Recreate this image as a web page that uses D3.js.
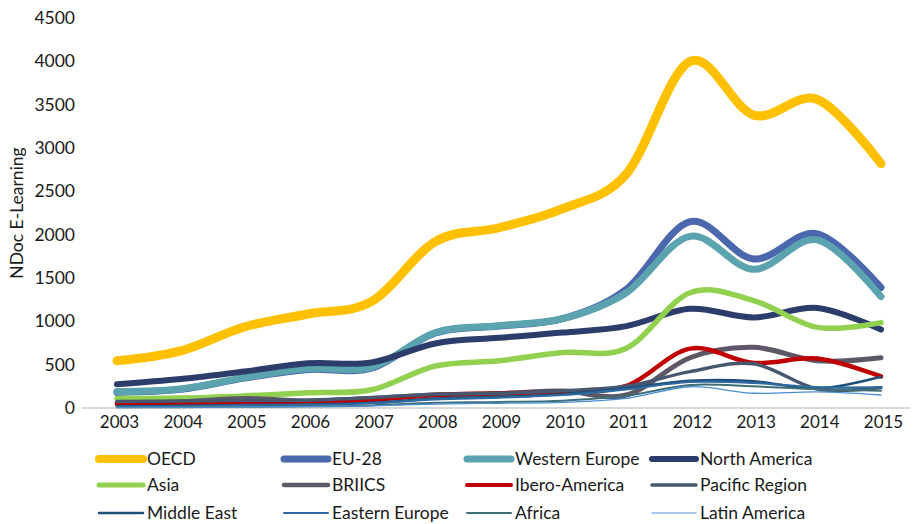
<!DOCTYPE html>
<html>
<head>
<meta charset="utf-8">
<script src="https://cdn.jsdelivr.net/npm/d3@7/dist/d3.min.js"></script>
<style>
  html, body { margin: 0; padding: 0; background: #fff; }
  svg { display: block; font-family: Lato, "Open Sans", sans-serif; }
</style>
</head>
<body>
<svg id="chart" width="913" height="524"></svg>
<script>
// Yearly document counts per region
const years = [2003, 2004, 2005, 2006, 2007, 2008, 2009, 2010, 2011, 2012, 2013, 2014, 2015];
const yTicks = [0, 500, 1000, 1500, 2000, 2500, 3000, 3500, 4000, 4500];

const oecd          = [545, 660, 935, 1085, 1230, 1920, 2080, 2300, 2700, 4000, 3380, 3560, 2820];
const eu28          = [180, 215, 345, 445, 460, 865, 945, 1030, 1370, 2150, 1720, 2010, 1390];
const westernEurope = [190, 220, 350, 455, 470, 870, 950, 1030, 1330, 1980, 1600, 1940, 1285];
const northAmerica  = [275, 335, 420, 515, 525, 745, 810, 870, 945, 1145, 1045, 1155, 905];
const asia          = [110, 115, 140, 175, 210, 485, 545, 640, 690, 1330, 1240, 930, 985];
const briics        = [60, 70, 110, 80, 110, 150, 165, 195, 150, 580, 700, 545, 580];
const iberoAmerica  = [40, 45, 65, 70, 95, 150, 170, 190, 255, 685, 520, 570, 365];
const pacificRegion = [75, 80, 90, 90, 120, 160, 170, 200, 250, 420, 510, 220, 235];
const middleEast    = [20, 25, 35, 40, 60, 110, 130, 160, 230, 315, 310, 225, 360];
const easternEurope = [15, 20, 30, 35, 55, 100, 120, 150, 215, 300, 290, 240, 240];
const africa        = [8, 10, 15, 20, 30, 60, 70, 85, 140, 265, 250, 215, 200];
const latinAmerica  = [5, 8, 12, 15, 25, 45, 55, 65, 110, 245, 170, 185, 150];

const series = [
  { name: "OECD",            values: oecd,          color: "#FFC000", width: 9,   legendWidth: 8 },
  { name: "EU-28",           values: eu28,          color: "#4B67AE", width: 7,   legendWidth: 7 },
  { name: "Western Europe",  values: westernEurope, color: "#5AA3AF", width: 7,   legendWidth: 7 },
  { name: "North America",   values: northAmerica,  color: "#2C3D6B", width: 6,   legendWidth: 6 },
  { name: "Asia",            values: asia,          color: "#92D050", width: 5.5, legendWidth: 5 },
  { name: "BRIICS",          values: briics,        color: "#5E5766", width: 5,   legendWidth: 4.5 },
  { name: "Ibero-America",   values: iberoAmerica,  color: "#C00000", width: 4.5, legendWidth: 4 },
  { name: "Pacific Region",  values: pacificRegion, color: "#47576F", width: 3.5, legendWidth: 3.5 },
  { name: "Middle East",     values: middleEast,    color: "#1F4E79", width: 2.5, legendWidth: 2.5 },
  { name: "Eastern Europe",  values: easternEurope, color: "#2E69A0", width: 2.2, legendWidth: 2 },
  { name: "Africa",          values: africa,        color: "#3F6F76", width: 2,   legendWidth: 2 },
  { name: "Latin America",   values: latinAmerica,  color: "#4A8FD6", width: 1.3, legendWidth: 1.2 }
];

const svg = d3.select("#chart");

const x = d3.scalePoint().domain(years).range([117, 881]);
const y = d3.scaleLinear().domain([0, 4500]).range([408, 18]);

// Category axis baseline
svg.append("line")
  .attr("x1", 82).attr("x2", 910)
  .attr("y1", y(0)).attr("y2", y(0))
  .attr("stroke", "#D9D9D9").attr("stroke-width", 2);

// Value axis labels
const yAxis = d3.axisLeft(y).tickValues(yTicks).tickFormat(d3.format("d")).tickSize(0).tickPadding(0);
const yG = svg.append("g").attr("transform", "translate(75,0)").call(yAxis);
yG.select(".domain").remove();
yG.selectAll("text")
  .attr("font-family", "Lato, 'Open Sans', sans-serif")
  .attr("font-size", 17.5).attr("fill", "#1a1a1a");

// Year labels
const xAxis = d3.axisBottom(x).tickFormat(d3.format("d")).tickSize(0).tickPadding(0);
const xG = svg.append("g").attr("transform", "translate(2,416)").call(xAxis);
xG.select(".domain").remove();
xG.selectAll("text")
  .attr("font-family", "Lato, 'Open Sans', sans-serif")
  .attr("font-size", 17).attr("fill", "#1a1a1a");

// Axis title
svg.append("text")
  .attr("transform", "translate(23,213) rotate(-90)")
  .attr("text-anchor", "middle")
  .attr("font-size", 17.5).attr("fill", "#1a1a1a")
  .text("NDoc E-Learning");

// Smoothed series lines
const line = d3.line()
  .x((d, i) => x(years[i]))
  .y(d => y(d))
  .curve(d3.curveCardinal.tension(0));

svg.append("g").selectAll("path")
  .data(series)
  .join("path")
  .attr("d", d => line(d.values))
  .attr("fill", "none")
  .attr("stroke", d => d.color)
  .attr("stroke-width", d => d.width)
  .attr("stroke-linecap", "round")
  .attr("stroke-linejoin", "round");

// Legend: four columns, three rows
const colX = [97, 282, 465, 650];
const rowY = [459, 485, 513];
const legend = svg.append("g").selectAll("g")
  .data(series)
  .join("g")
  .attr("transform", (d, i) => `translate(${colX[i % 4]},${rowY[Math.floor(i / 4)]})`);

legend.append("line")
  .attr("x1", 2).attr("x2", 46)
  .attr("stroke", d => d.color)
  .attr("stroke-width", d => d.legendWidth)
  .attr("stroke-linecap", "round");

legend.append("text")
  .attr("x", 50).attr("dy", "0.35em")
  .attr("font-size", 17.5).attr("fill", "#1a1a1a")
  .text(d => d.name);
</script>
</body>
</html>
